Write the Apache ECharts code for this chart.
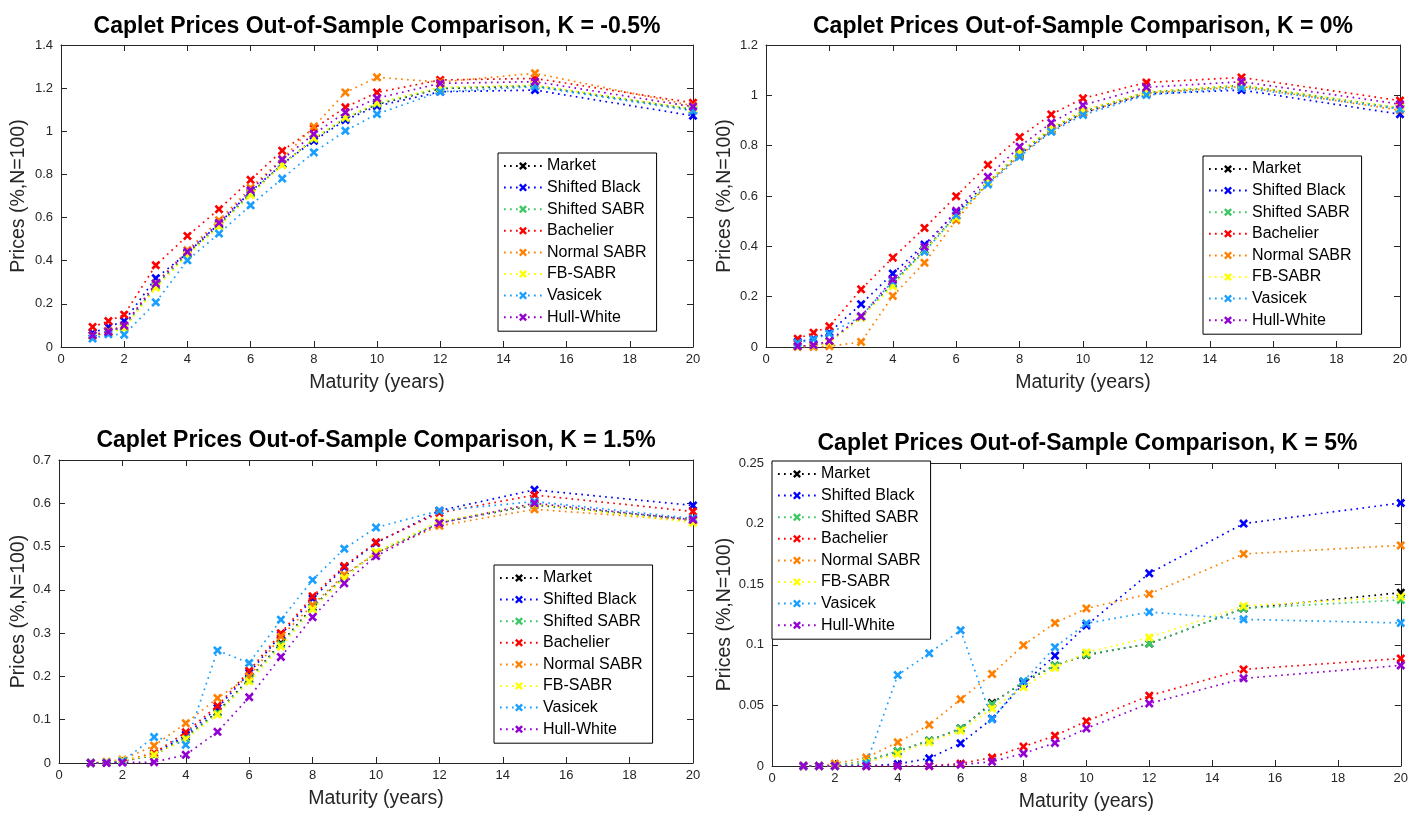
<!DOCTYPE html>
<html>
<head>
<meta charset="utf-8">
<title>Caplet Prices Out-of-Sample Comparison</title>
<script src="https://cdn.jsdelivr.net/npm/echarts@6/dist/echarts.min.js"></script>
<style>
  html, body { margin: 0; padding: 0; background: #fff; }
  #chart { width: 1411px; height: 814px; }
</style>
</head>
<body>
<div id="chart"></div>
<script>
// Maturities (years) shared by every panel
const maturities = [1, 1.5, 2, 3, 4, 5, 6, 7, 8, 9, 10, 12, 15, 20];

// Pricing models, in legend order
const models = ['Market', 'Shifted Black', 'Shifted SABR', 'Bachelier', 'Normal SABR', 'FB-SABR', 'Vasicek', 'Hull-White'];
const modelColors = ['#000000', '#0000ff', '#3cc864', '#ff0000', '#ff8000', '#ffff00', '#1a9fff', '#9400d3'];

// Panel titles (strike levels)
const strikes = ['K = -0.5%', 'K = 0%', 'K = 1.5%', 'K = 5%'];

// Caplet prices (%, N=100), one row per model in legend order
const pricesKm05 = [
  [0.053, 0.068, 0.092, 0.285, 0.432, 0.565, 0.712, 0.848, 0.963, 1.060, 1.125, 1.198, 1.210, 1.100], // Market
  [0.065, 0.093, 0.120, 0.319, 0.435, 0.572, 0.720, 0.848, 0.956, 1.052, 1.117, 1.183, 1.191, 1.072], // Shifted Black
  [0.052, 0.067, 0.090, 0.282, 0.430, 0.562, 0.710, 0.846, 0.965, 1.062, 1.128, 1.200, 1.212, 1.101], // Shifted SABR
  [0.093, 0.120, 0.150, 0.379, 0.515, 0.639, 0.775, 0.910, 1.012, 1.111, 1.180, 1.238, 1.245, 1.132], // Bachelier
  [0.055, 0.075, 0.100, 0.295, 0.449, 0.588, 0.738, 0.872, 1.022, 1.180, 1.250, 1.228, 1.269, 1.118], // Normal SABR
  [0.050, 0.065, 0.085, 0.275, 0.425, 0.557, 0.704, 0.843, 0.967, 1.064, 1.132, 1.204, 1.214, 1.104], // FB-SABR
  [0.039, 0.059, 0.057, 0.207, 0.402, 0.526, 0.657, 0.781, 0.902, 1.002, 1.080, 1.183, 1.207, 1.095], // Vasicek
  [0.054, 0.070, 0.100, 0.294, 0.441, 0.575, 0.727, 0.869, 0.987, 1.088, 1.153, 1.222, 1.230, 1.114]  // Hull-White
];
const pricesK0 = [
  [0.002, 0.005, 0.020, 0.119, 0.252, 0.386, 0.522, 0.653, 0.770, 0.866, 0.936, 1.011, 1.039, 0.948],
  [0.020, 0.033, 0.058, 0.170, 0.292, 0.407, 0.535, 0.655, 0.765, 0.860, 0.930, 1.005, 1.021, 0.925],
  [0.002, 0.005, 0.020, 0.118, 0.250, 0.385, 0.520, 0.652, 0.768, 0.865, 0.935, 1.010, 1.038, 0.948],
  [0.033, 0.057, 0.082, 0.229, 0.355, 0.473, 0.599, 0.724, 0.834, 0.924, 0.988, 1.051, 1.071, 0.979],
  [0.000, 0.000, 0.003, 0.020, 0.203, 0.335, 0.504, 0.650, 0.760, 0.860, 0.930, 1.008, 1.035, 0.941],
  [0.002, 0.005, 0.018, 0.117, 0.241, 0.380, 0.515, 0.656, 0.776, 0.872, 0.941, 1.014, 1.041, 0.950],
  [0.016, 0.030, 0.053, 0.122, 0.262, 0.378, 0.524, 0.646, 0.756, 0.855, 0.922, 1.001, 1.030, 0.945],
  [0.003, 0.007, 0.024, 0.122, 0.268, 0.398, 0.541, 0.676, 0.796, 0.891, 0.961, 1.032, 1.054, 0.965]
];
const pricesK15 = [
  [0.000, 0.001, 0.005, 0.018, 0.060, 0.118, 0.194, 0.277, 0.360, 0.431, 0.485, 0.555, 0.596, 0.562],
  [0.000, 0.001, 0.003, 0.020, 0.065, 0.127, 0.208, 0.296, 0.380, 0.452, 0.508, 0.583, 0.631, 0.595],
  [0.000, 0.001, 0.005, 0.018, 0.058, 0.116, 0.192, 0.274, 0.358, 0.430, 0.486, 0.556, 0.597, 0.560],
  [0.000, 0.001, 0.004, 0.023, 0.071, 0.132, 0.213, 0.300, 0.385, 0.455, 0.510, 0.578, 0.619, 0.581],
  [0.000, 0.003, 0.008, 0.040, 0.092, 0.150, 0.200, 0.292, 0.365, 0.435, 0.485, 0.548, 0.586, 0.560],
  [0.000, 0.002, 0.006, 0.019, 0.055, 0.112, 0.188, 0.269, 0.355, 0.427, 0.488, 0.558, 0.598, 0.555],
  [0.000, 0.001, 0.004, 0.060, 0.042, 0.260, 0.231, 0.331, 0.423, 0.495, 0.544, 0.583, 0.604, 0.565],
  [0.000, 0.000, 0.001, 0.002, 0.019, 0.072, 0.152, 0.245, 0.337, 0.415, 0.478, 0.554, 0.600, 0.562]
];
const pricesK5 = [
  [0, 0, 0, 0.004, 0.012, 0.021, 0.031, 0.052, 0.069, 0.083, 0.0915, 0.101, 0.130, 0.143],
  [0, 0, 0, 0, 0.0016, 0.0063, 0.0187, 0.039, 0.068, 0.091, 0.116, 0.159, 0.200, 0.217],
  [0, 0, 0, 0.004, 0.0124, 0.021, 0.031, 0.051, 0.070, 0.083, 0.092, 0.101, 0.130, 0.137],
  [0, 0, 0, 0, 0, 0, 0.002, 0.007, 0.016, 0.025, 0.037, 0.058, 0.0797, 0.0887],
  [0, 0, 0.002, 0.007, 0.0195, 0.034, 0.055, 0.076, 0.0997, 0.118, 0.130, 0.142, 0.175, 0.182],
  [0, 0, 0, 0.003, 0.010, 0.0195, 0.029, 0.0475, 0.065, 0.081, 0.0937, 0.106, 0.132, 0.1396],
  [0, 0, 0, 0.002, 0.075, 0.093, 0.112, 0.0385, 0.070, 0.098, 0.1176, 0.127, 0.121, 0.118],
  [0, 0, 0, 0, 0, 0, 0.001, 0.0036, 0.0104, 0.019, 0.031, 0.0516, 0.0723, 0.083]
];

// Y-axis ranges per panel: [max, interval]
const yRanges = [[1.4, 0.2], [1.2, 0.2], [0.7, 0.1], [0.25, 0.05]];

const panelPrices = [pricesKm05, pricesK0, pricesK15, pricesK5];

// Layout of the four panels
const panels = [
  { grid: { left: 61, top: 45, width: 632, height: 302 }, legend: { left: 498, top: 153 }, titleY: 27, yNameGap: 32 },
  { grid: { left: 766, top: 45, width: 634, height: 302 }, legend: { left: 1203, top: 156 }, titleY: 27, yNameGap: 31 },
  { grid: { left: 59, top: 460, width: 634, height: 303 }, legend: { left: 494, top: 565 }, titleY: 441, yNameGap: 29 },
  { grid: { left: 772, top: 463, width: 631, height: 303 }, legend: { left: 772, top: 461 }, titleY: 444, yNameGap: 35 }
];

// Bold "x" marker
const crossSymbol = 'path://M0,2.1L2.1,0L5,2.9L7.9,0L10,2.1L7.1,5L10,7.9L7.9,10L5,7.1L2.1,10L0,7.9L2.9,5Z';

const FONT = '"Liberation Sans", Arial, Helvetica, sans-serif';
const AXIS_COLOR = '#262626';

const grids = [], xAxes = [], yAxes = [], series = [], legends = [], graphics = [];

panels.forEach((p, g) => {
  grids.push(Object.assign({ containLabel: false }, p.grid));

  const tickCommon = { show: true, inside: true, length: 6, lineStyle: { color: AXIS_COLOR, width: 1 } };
  const lineCommon = { show: true, onZero: false, lineStyle: { color: AXIS_COLOR, width: 1 } };

  // bottom axis with labels
  xAxes.push({
    type: 'value', gridIndex: g, min: 0, max: 20, interval: 2, position: 'bottom',
    axisLine: lineCommon, axisTick: tickCommon, splitLine: { show: false },
    axisLabel: { color: AXIS_COLOR, fontSize: 13, fontFamily: FONT, margin: 6 },
    name: 'Maturity (years)', nameLocation: 'middle', nameGap: 26,
    nameTextStyle: { color: AXIS_COLOR, fontSize: 19.5, fontFamily: FONT }
  });
  // top box edge
  xAxes.push({
    type: 'value', gridIndex: g, min: 0, max: 20, interval: 2, position: 'top',
    axisLine: lineCommon, axisTick: tickCommon, splitLine: { show: false }, axisLabel: { show: false }
  });

  const [ymax, yint] = yRanges[g];
  yAxes.push({
    type: 'value', gridIndex: g, min: 0, max: ymax, interval: yint, position: 'left',
    axisLine: lineCommon, axisTick: tickCommon, splitLine: { show: false },
    axisLabel: { color: AXIS_COLOR, fontSize: 13, fontFamily: FONT, margin: 8 },
    name: 'Prices (%,N=100)', nameLocation: 'middle', nameGap: p.yNameGap,
    nameTextStyle: { color: AXIS_COLOR, fontSize: 19.5, fontFamily: FONT }
  });
  // right box edge
  yAxes.push({
    type: 'value', gridIndex: g, min: 0, max: ymax, interval: yint, position: 'right',
    axisLine: lineCommon, axisTick: tickCommon, splitLine: { show: false }, axisLabel: { show: false }
  });

  models.forEach((name, m) => {
    series.push({
      type: 'line', name: name,
      xAxisIndex: 2 * g, yAxisIndex: 2 * g,
      data: maturities.map((t, i) => [t, panelPrices[g][m][i]]),
      symbol: crossSymbol, symbolSize: 9, showSymbol: true,
      lineStyle: { color: modelColors[m], width: 1.7, type: [1.7, 4.3] },
      itemStyle: { color: modelColors[m] },
      emphasis: { disabled: true },
      z: 2 + m
    });
  });

  legends.push({
    orient: 'vertical', left: p.legend.left, top: p.legend.top,
    data: models, selectedMode: false,
    itemWidth: 38, itemHeight: 10, itemGap: 5.6,
    padding: [5, 10, 6, 5],
    backgroundColor: '#fff', borderColor: '#000', borderWidth: 1,
    textStyle: { color: '#000', fontSize: 16, fontFamily: FONT, lineHeight: 16 },
    z: 20
  });

  graphics.push({
    type: 'text',
    x: p.grid.left + p.grid.width / 2, y: p.titleY,
    style: {
      text: 'Caplet Prices Out-of-Sample Comparison, ' + strikes[g],
      textAlign: 'center', textVerticalAlign: 'middle',
      font: 'bold 23px ' + FONT, fill: '#000'
    }
  });
});

const chart = echarts.init(document.getElementById('chart'), null, { renderer: 'canvas' });
chart.setOption({
  animation: false,
  backgroundColor: '#fff',
  grid: grids,
  xAxis: xAxes,
  yAxis: yAxes,
  legend: legends,
  series: series,
  graphic: graphics
});
</script>
</body>
</html>
